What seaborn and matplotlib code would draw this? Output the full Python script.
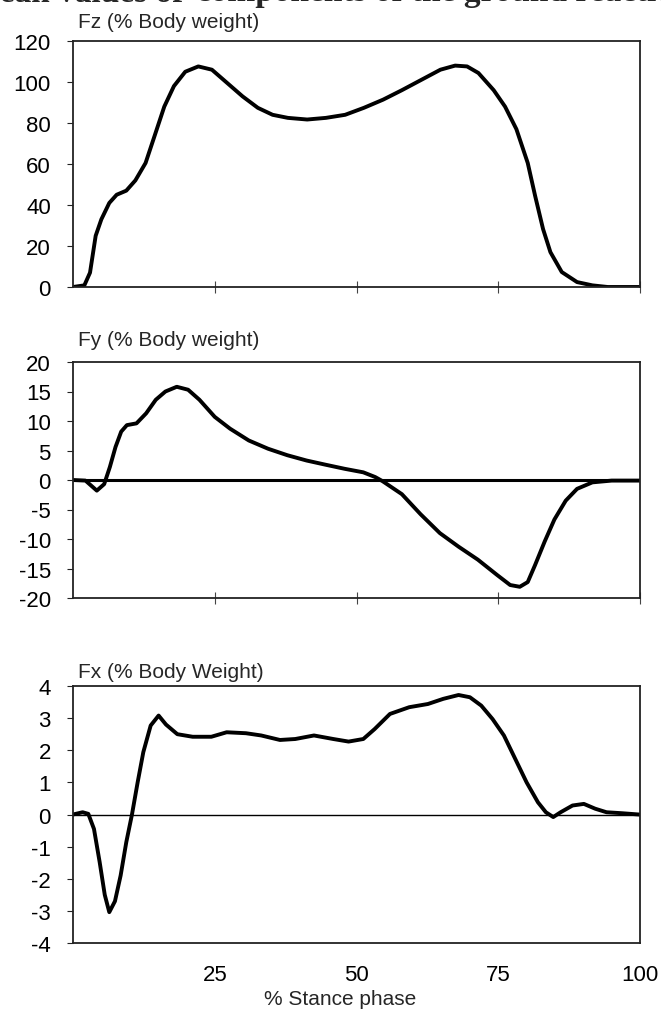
import matplotlib
matplotlib.use("Agg")
import matplotlib.pyplot as plt
import seaborn as sns
import pandas as pd

# ---------------- data ----------------
fz_x = [0, 2, 3, 4, 5, 6.4, 7.7, 9.4, 11, 12.8, 14.4, 16.1, 17.8, 19.8, 22.1, 24.5, 27.2,
        29.9, 32.6, 35.2, 37.9, 41.3, 44.6, 48, 51.3, 54.7, 58, 61.4, 64.8, 67.4, 69.5,
        71.5, 74.2, 76.2, 78.2, 80.2, 81.5, 82.9, 84.2, 86.2, 88.9, 91.6, 94.3, 100]
fz_y = [0, 0.8, 7, 25, 33, 41, 45, 47, 52, 60.5, 73.8, 88, 98, 105, 107.6, 106, 99.5,
        93, 87.4, 84, 82.5, 81.7, 82.5, 84, 87.4, 91.4, 96, 101, 106, 108, 107.6,
        104.4, 96, 88, 77, 60.5, 44.5, 28.3, 17, 7.3, 2.4, 0.8, 0, 0]

fy_x = [0, 2.2, 4.2, 5.5, 6.5, 7.5, 8.5, 9.5, 11.2, 12.9, 14.6, 16.3, 18.3, 20.3, 22.3,
        25, 27.7, 31, 34.4, 37.8, 41.2, 44.5, 47.9, 51.2, 53.3, 54.6, 58, 61.3, 64.7,
        68, 71.4, 74.8, 77.1, 78.8, 80.2, 81.5, 83.2, 84.9, 86.9, 88.9, 91.6, 95, 100]
fy_y = [0, -0.1, -1.8, -0.7, 2.2, 5.6, 8.2, 9.3, 9.6, 11.3, 13.6, 15, 15.8, 15.3, 13.6,
        10.7, 8.7, 6.7, 5.3, 4.2, 3.3, 2.6, 1.9, 1.3, 0.5, -0.2, -2.4, -5.8, -9,
        -11.3, -13.5, -16.1, -17.8, -18.1, -17.3, -14.4, -10.4, -6.7, -3.5, -1.5, -0.4, -0.1, -0.1]

fx_x = [0, 1.7, 2.7, 3.7, 4.7, 5.6, 6.4, 7.4, 8.4, 9.4, 10.4, 11.4, 12.4, 13.7, 15.1,
        16.4, 18.4, 21.1, 24.4, 27.1, 30.5, 33.2, 36.5, 39.2, 42.5, 45.9, 48.6, 51.2,
        53.2, 55.9, 59.3, 62.6, 65.3, 68, 70, 72, 74, 76, 78, 80, 82, 83.4, 84.7, 86,
        88.1, 90.1, 92.1, 94.1, 96.8, 99.8]
fx_y = [0, 0.07, 0.02, -0.45, -1.48, -2.5, -3.04, -2.7, -1.9, -0.86, 0, 1.0, 1.94, 2.77,
        3.08, 2.8, 2.5, 2.42, 2.42, 2.56, 2.53, 2.46, 2.32, 2.35, 2.46, 2.35, 2.27, 2.35,
        2.66, 3.13, 3.34, 3.44, 3.6, 3.72, 3.65, 3.39, 2.97, 2.46, 1.73, 1.0, 0.38, 0.07,
        -0.08, 0.07, 0.28, 0.33, 0.18, 0.07, 0.04, 0]

panel_titles = ["Fz (% Body weight)", "Fy (% Body weight)", "Fx (% Body Weight)"]
fz_ticks = [0, 20, 40, 60, 80, 100, 120]
fy_ticks = [20, 15, 10, 5, 0, -5, -10, -15, -20]
fx_ticks = [4, 3, 2, 1, 0, -1, -2, -3, -4]
x_ticks = [25, 50, 75, 100]
x_label = "% Stance phase"
title_prefix = "Mean values of "
title_rest = "components of the ground reaction force"

# ---------------- style ----------------
sns.set_style("white")
plt.rcParams["font.family"] = ["Liberation Sans", "DejaVu Sans"]
plt.rcParams["axes.edgecolor"] = "#222222"

W, H = 661, 1012
fig = plt.figure(figsize=(W / 100, H / 100), dpi=100)


def box(left, top, right, bottom):
    return [left / W, 1 - bottom / H, (right - left) / W, (bottom - top) / H]


ax1 = fig.add_axes(box(73, 42, 640, 288))
ax2 = fig.add_axes(box(73, 363, 640, 599))
ax3 = fig.add_axes(box(73, 687, 640, 944))

lw = 2.8
sns.lineplot(data=pd.DataFrame({"x": fz_x, "y": fz_y}), x="x", y="y", ax=ax1,
             color="black", lw=lw, sort=False, estimator=None)
sns.lineplot(data=pd.DataFrame({"x": fy_x, "y": fy_y}), x="x", y="y", ax=ax2,
             color="black", lw=lw, sort=False, estimator=None)
sns.lineplot(data=pd.DataFrame({"x": fx_x, "y": fx_y}), x="x", y="y", ax=ax3,
             color="black", lw=lw, sort=False, estimator=None)

ax2.axhline(0, color="black", lw=2.2, zorder=1)
ax3.axhline(0, color="black", lw=1.0, zorder=1)

for ax, ticks in [(ax1, fz_ticks), (ax2, fy_ticks), (ax3, fx_ticks)]:
    ax.set_xlim(0, 100)
    ax.set_ylim(min(ticks), max(ticks))
    ax.set_yticks(ticks)
    ax.set_yticklabels([str(t) for t in ticks])
    ax.set_xticks(x_ticks)
    ax.set_xlabel("")
    ax.set_ylabel("")
    for s in ax.spines.values():
        s.set_visible(True)
        s.set_linewidth(1.3)
        s.set_color("#222222")
    ax.tick_params(axis="y", direction="out", length=4, width=0.8, pad=12,
                   labelsize=16, left=True, colors="#222222", labelcolor="black")
    ax.grid(False)

for ax in (ax1, ax2):
    ax.tick_params(axis="x", direction="inout", length=8, width=0.8, bottom=True,
                   labelbottom=False, colors="#444444")

ax3.tick_params(axis="x", length=0, pad=15, labelsize=16, labelcolor="black")
ax3.set_xticklabels([str(t) for t in x_ticks])
ax3.set_xlabel(x_label, fontsize=15)
ax3.xaxis.set_label_coords(0.471, -0.18)

for t, ypix in zip(panel_titles, [22, 341, 672]):
    fig.text(78 / W, 1 - ypix / H, t, fontsize=15, va="center", ha="left")

# partially cut-off figure caption at the top
fig.text(192 / W, 1 - 1.5 / H, title_prefix, fontsize=24, fontweight="bold",
         family=["Liberation Serif", "DejaVu Serif"], ha="right", va="baseline")
fig.text(196 / W, 1 - 1.5 / H, title_rest, fontsize=24, fontweight="bold",
         family=["Liberation Serif", "DejaVu Serif"], ha="left", va="baseline")

fig.savefig("out.png", dpi=100)
